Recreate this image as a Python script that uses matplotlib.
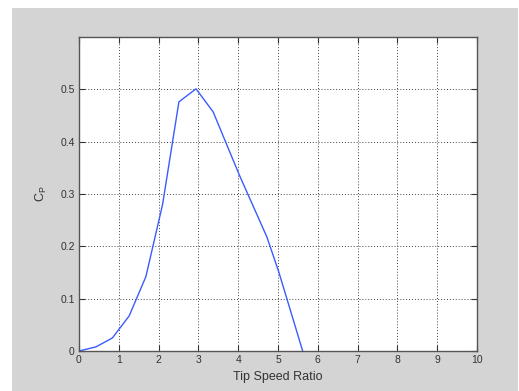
import matplotlib
matplotlib.use('Agg')
import matplotlib.pyplot as plt
from matplotlib.patches import Rectangle

plt.rcParams['font.family'] = ['Liberation Sans', 'DejaVu Sans']

# power coefficient vs tip speed ratio
tsr = [0, 0.43, 0.84, 1.26, 1.68, 2.1, 2.51, 2.94, 3.37, 4.03, 4.72, 5.02, 5.62]
cp = [0, 0.008, 0.025, 0.067, 0.142, 0.28, 0.476, 0.501, 0.457, 0.336, 0.218, 0.151, 0]

xticks = list(range(0, 11))
yticks = [0, 0.1, 0.2, 0.3, 0.4, 0.5]
ytick_labels = ['0', '0.1', '0.2', '0.3', '0.4', '0.5']

fig = plt.figure(figsize=(5.19, 3.91), dpi=100, facecolor='white')
# gray window background
fig.patches.append(Rectangle((12 / 519, 0), 506 / 519, 383 / 391,
                             transform=fig.transFigure, facecolor='#d4d4d4',
                             edgecolor='none', zorder=-1))

ax = fig.add_axes([79 / 519, 40 / 391, 398 / 519, 314 / 391])
ax.plot(tsr, cp, color='#3a5cff', lw=1.0)

ax.set_xlim(0, 10)
ax.set_ylim(0, 0.6)
ax.set_xticks(xticks)
ax.set_yticks(yticks)
ax.set_yticklabels(ytick_labels)
ax.grid(True, linestyle=(0, (1, 2)), color='#444444', lw=0.7)
ax.tick_params(direction='in', length=4, width=0.8, labelsize=7.5,
               colors='#333333', top=True, right=True, pad=3)
for sp in ax.spines.values():
    sp.set_color('#555555')
    sp.set_linewidth(1.0)

ax.set_xlabel('Tip Speed Ratio', fontsize=9, color='#333333', labelpad=4)
ax.set_ylabel(r'C$_\mathregular{P}$', fontsize=9, color='#333333', labelpad=8)

fig.savefig('out.png', dpi=100, facecolor='white')
